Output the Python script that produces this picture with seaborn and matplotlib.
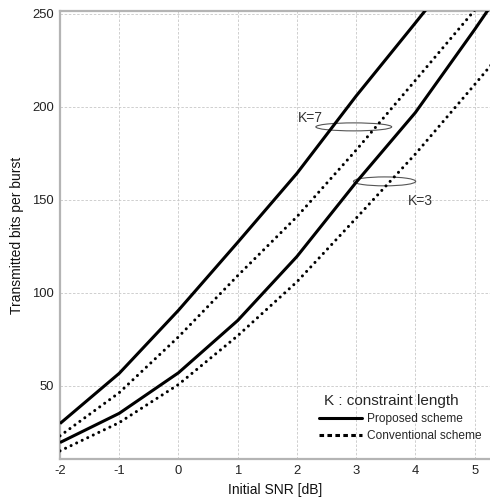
import matplotlib
matplotlib.use("Agg")
import matplotlib.pyplot as plt
from matplotlib.lines import Line2D
from matplotlib.patches import Ellipse
import numpy as np
import pandas as pd
import seaborn as sns

sns.set_theme(style="white")
plt.rcParams["font.family"] = ["Liberation Sans", "DejaVu Sans"]
plt.rcParams["axes.unicode_minus"] = False

snr_db = [-2, -1, 0, 1, 2, 3, 4, 5, 6]
k7_proposed = [29.8, 56.8, 90.7, 127.2, 164.3, 205.9, 245.2, 285.0, 325.0]
k7_conventional = [23.2, 46.4, 76.4, 109.3, 141.0, 176.8, 214.3, 252.0, 290.0]
k3_proposed = [19.6, 35.3, 57.1, 85.2, 119.6, 159.5, 197.0, 241.6, 288.0]
k3_conventional = [15.1, 30.3, 50.8, 77.0, 106.0, 140.2, 174.7, 212.0, 250.0]

series = {
    ("K=7", "Proposed scheme"): k7_proposed,
    ("K=7", "Conventional scheme"): k7_conventional,
    ("K=3", "Proposed scheme"): k3_proposed,
    ("K=3", "Conventional scheme"): k3_conventional,
}
rows = []
for (k, scheme), vals in series.items():
    for x, v in zip(snr_db, vals):
        rows.append({"snr": x, "bits": v, "K": k, "scheme": scheme})
df = pd.DataFrame(rows)

fig = plt.figure(figsize=(4.9, 4.99), dpi=100)
ax = fig.add_axes([60 / 490, 40 / 499, 1 - 60 / 490, 448 / 499])

LW = 2.2
for (k, scheme), sub in df.groupby(["K", "scheme"]):
    dotted = scheme == "Conventional scheme"
    sns.lineplot(data=sub, x="snr", y="bits", ax=ax, color="black",
                 linewidth=LW, legend=False, zorder=3,
                 linestyle=(0, (0.01, 2.0)) if dotted else "-",
                 dash_capstyle="round", solid_capstyle="butt")

ax.set_xlim(-2, 5.26)
ax.set_ylim(10.75, 251.6)
ax.set_xticks([-2, -1, 0, 1, 2, 3, 4, 5])
ax.set_yticks([50, 100, 150, 200, 250])
ax.grid(True, color="#c8c8c8", linestyle=(0, (3, 2)), linewidth=0.6)
ax.tick_params(axis="both", length=0, labelsize=9.4, pad=4.5, colors="#222222")
for side in ["left", "top", "bottom"]:
    ax.spines[side].set_color("#b4b4b4")
    ax.spines[side].set_linewidth(1.6)
ax.spines["right"].set_visible(False)

ax.set_xlabel("Initial SNR [dB]", fontsize=10, color="#111111", labelpad=4)
ax.set_ylabel("Transmitted bits per burst", fontsize=10, color="#111111", labelpad=6)

# constraint-length groupings
ax.add_patch(Ellipse((2.96, 189.3), 1.28, 4.3, facecolor="none",
                     edgecolor="#555555", linewidth=0.8, zorder=2))
ax.add_patch(Ellipse((3.48, 160.0), 1.05, 4.8, facecolor="none",
                     edgecolor="#555555", linewidth=0.8, zorder=2))
ax.text(2.23, 194, "K=7", fontsize=10, color="#333333", ha="center", va="center")
ax.text(4.09, 149.5, "K=3", fontsize=10, color="#333333", ha="center", va="center")

handles = [
    Line2D([], [], color="black", linewidth=LW, linestyle="-"),
    Line2D([], [], color="black", linewidth=LW, linestyle=(0, (1.5, 1.1))),
]
leg = ax.legend(handles, ["Proposed scheme", "Conventional scheme"],
                title="K : constraint length", loc="lower right",
                bbox_to_anchor=(488 / 490, (499 - 448) / 499),
                bbox_transform=fig.transFigure, frameon=False,
                fontsize=8.6, title_fontsize=11, handlelength=3.6,
                handletextpad=0.45, labelspacing=0.4, borderpad=0)
leg._legend_box.align = "left"
leg.get_title().set_position((5, 0))

fig.savefig("out.png", dpi=100)
